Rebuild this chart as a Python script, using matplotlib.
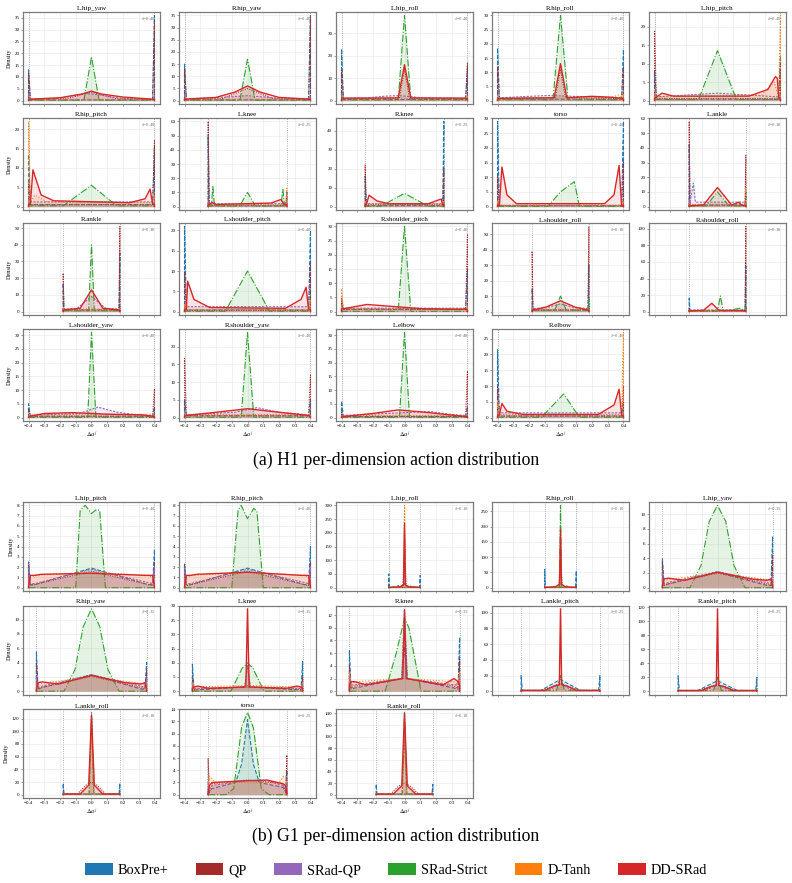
import numpy as np
import matplotlib
matplotlib.use("Agg")
import matplotlib.pyplot as plt
from matplotlib.patches import Patch
from matplotlib.ticker import MultipleLocator

plt.rcParams['font.family'] = ['Liberation Serif', 'DejaVu Serif']
plt.rcParams['mathtext.fontset'] = 'stix'

# =============================================
# Methods
# =============================================
METHODS = ["BoxPre+", "QP", "SRad-QP", "SRad-Strict", "D-Tanh", "DD-SRad"]
COLORS = ["#1f77b4", "#a52a2a", "#9467bd", "#2ca02c", "#ff7f0e", "#d62728"]
STYLES = ["--", (0, (1, 1.2)), (0, (2, 1.2)), "-.", ":", "-"]

# each curve: (left edge spike, base level, right edge spike, [(u, density), ...])
# u is the position as a fraction of delta (-1 .. 1)

# =============================================
# H1 (19 joints)
# =============================================
H1_NAMES = ["L.hip_yaw", "R.hip_yaw", "L.hip_roll", "R.hip_roll", "L.hip_pitch",
            "R.hip_pitch", "L.knee", "R.knee", "torso", "L.ankle",
            "R.ankle", "L.shoulder_pitch", "R.shoulder_pitch", "L.shoulder_roll", "R.shoulder_roll",
            "L.shoulder_yaw", "R.shoulder_yaw", "L.elbow", "R.elbow"]
H1_DELTA = [0.40, 0.40, 0.40, 0.40, 0.40, 0.40, 0.25, 0.25, 0.40, 0.18,
            0.18, 0.40, 0.40, 0.18, 0.18, 0.40, 0.40, 0.40, 0.40]
H1_YSTEP = [5, 5, 10, 5, 5, 5, 10, 10, 5, 10, 10, 5, 5, 10, 20, 5, 5, 5, 5]

H1_BOX = [(13, 0.3, 36, []), (15, 0.3, 35, []), (23, 0.5, 15, []), (18.5, 0.5, 18, []),
          (8, 0.4, 12, []), (13.5, 0.5, 15.5, []), (50, 0.5, 10, []), (16, 0.5, 45, []),
          (29, 0.3, 29, []), (42, 1, 10, []), (17, 1, 35, []), (21, 0.4, 20, []),
          (3, 0.8, 15, []), (15, 1, 30, []), (16, 1, 55, []), (5, 0.5, 4, []),
          (5, 0.5, 5, []), (6, 0.4, 4, []), (21.5, 0.5, 5, [])]
H1_QP = [(12, 0.5, 34, [(-0.4, 0.8), (0, 3.5), (0.4, 0.8)]),
         (13, 0.5, 34, [(-0.4, 0.8), (0, 5), (0.4, 0.8)]),
         (14, 0.8, 17, [(-0.08, 1), (0, 14), (0.08, 1)]),
         (12, 0.7, 12, [(-0.08, 1), (0, 11), (0.08, 1)]),
         (19, 0.5, 10, []), (6, 0.5, 17, []), (60, 1, 8, []), (22, 1, 20, []),
         (10, 0.3, 15, []), (58, 1, 35, []), (23, 1, 51, []), (10, 0.3, 12, []),
         (5, 0.8, 27, []), (39, 1, 55, []), (5, 1, 103, []), (3, 0.5, 10.5, []),
         (17, 0.5, 12, []), (2, 0.4, 17, []), (10, 0.5, 10, [])]
H1_SQP = [(3, 0.6, 2, [(-0.5, 1), (-0.1, 3), (0.1, 2.5), (0.5, 0.8)]),
          (2, 0.8, 2, [(-0.5, 1.2), (0, 2), (0.5, 1)]),
          (2, 1, 1.5, [(-0.6, 1.2), (-0.3, 2), (-0.1, 2.2), (0, 2), (0.3, 1.2)]),
          (1, 1, 1, [(-0.5, 1.5), (-0.2, 1.8), (0.2, 1.5), (0.6, 1.2)]),
          (2, 1, 1, [(-0.5, 1.5), (0, 2), (0.5, 1.5)]),
          (2, 1.2, 1.5, []), (3, 2, 3, []), (2, 1.5, 3, []), (1, 0.4, 1, []),
          (5, 3, 3, [(-0.85, 16), (-0.78, 3), (0.5, 3)]),
          (2, 1.5, 2, [(-0.5, 2), (0, 9), (0.5, 2)]),
          (1, 1.2, 1, []), (1, 1.2, 1, []),
          (3, 2, 3, [(-0.5, 2.5), (0, 5), (0.5, 2.5)]),
          (3, 2, 3, []),
          (1, 0.8, 1, [(-0.2, 1.5), (0.1, 3.8), (0.4, 2), (0.7, 1)]),
          (1, 0.8, 1, [(-0.2, 1.5), (0.15, 2.8), (0.5, 1.5)]),
          (1, 0.8, 1, [(0, 1.8), (0.4, 2.2), (0.8, 1)]),
          (2, 1.5, 1.5, [])]
H1_STRICT = [(1, 0.2, 1, [(-0.12, 0.2), (0, 18.5), (0.12, 0.2)]),
             (1, 0.2, 1, [(-0.12, 0.2), (0, 17), (0.12, 0.2)]),
             (1, 0.3, 1, [(-0.1, 0.3), (0, 38), (0.1, 0.3)]),
             (1, 0.3, 1, [(-0.12, 0.3), (0, 30), (0.12, 0.3)]),
             (0.5, 0.3, 0.5, [(-0.3, 0.3), (0, 13.5), (0.3, 0.3)]),
             (0.5, 0.2, 0.5, [(-0.45, 0.2), (0, 5.5), (0.4, 0.2)]),
             (1, 0.5, 1, [(-0.92, 0.5), (-0.88, 14), (-0.84, 0.5), (-0.2, 0.5), (0, 10),
                          (0.2, 0.5), (0.85, 0.5), (0.9, 12), (0.94, 0.5)]),
             (0.5, 0.2, 0.5, [(-0.6, 0.2), (0, 7), (0.6, 0.2)]),
             (0.2, 0.1, 0.2, [(-0.2, 0.1), (0, 5), (0.22, 8.5), (0.3, 0.1)]),
             (0.5, 0.5, 1, [(-0.4, 0.5), (0, 10), (0.4, 0.5)]),
             (0.5, 0.5, 0.5, [(-0.1, 0.5), (0, 40), (0.1, 0.5)]),
             (0.2, 0.1, 0.2, [(-0.35, 0.1), (0, 10), (0.35, 0.1)]),
             (0.2, 0.1, 0.2, [(-0.1, 0.1), (0, 30), (0.1, 0.1)]),
             (1, 1, 8, [(-0.2, 1), (0, 10), (0.2, 1)]),
             (1, 0.5, 5, [(0, 0.5), (0.1, 19), (0.2, 0.5), (0.8, 4)]),
             (0.2, 0.1, 0.2, [(-0.06, 0.1), (0, 31), (0.07, 0.1)]),
             (0.2, 0.1, 0.2, [(-0.1, 0.1), (0, 24), (0.1, 0.1)]),
             (0.2, 0.1, 0.2, [(-0.08, 0.1), (0, 31), (0.08, 0.1)]),
             (0.2, 0.1, 0.2, [(-0.3, 0.1), (0.05, 7.5), (0.3, 0.1)])]
H1_TANH = [(1, 0.5, 1, []), (1, 0.6, 1, []), (1, 0.8, 2, []), (1, 0.8, 2.5, [(0.8, 1), (0.92, 2)]),
           (3, 1, 23, [(0.7, 1.5), (0.9, 5)]), (22, 1, 3, [(-0.9, 3), (-0.7, 1.2)]),
           (2, 1, 13, []), (3, 1.5, 3, []), (2, 0.5, 2, []), (3, 1.5, 12, []),
           (2, 1.5, 2, []), (2, 0.5, 3, []), (8, 1, 2, []), (2, 1.5, 2, []),
           (2, 1, 2, []), (1, 1.2, 1, []), (1, 1, 1, []), (1, 1, 1, []), (5, 1, 27, [])]
H1_DD = [(0.3, 0.6, 0.5, [(-0.5, 1.2), (-0.15, 2.8), (0, 4), (0.15, 2.8), (0.5, 1.5)]),
         (0.5, 0.6, 0.5, [(-0.5, 1.3), (-0.2, 3.5), (0, 6), (0.2, 3.5), (0.5, 1.3)]),
         (0.5, 1.1, 0.5, [(-0.1, 1.2), (0, 16), (0.1, 1.2)]),
         (0.5, 0.8, 0.5, [(-0.1, 1), (0, 13), (0.1, 1), (0.5, 1.5), (0.8, 1.2)]),
         (0.5, 1, 0.5, [(-0.88, 2), (-0.7, 1.2), (0.5, 1.2), (0.8, 3), (0.92, 6.5), (0.95, 6)]),
         (0.5, 0.8, 0.5, [(-0.93, 9.5), (-0.8, 3), (-0.6, 1.5), (0.6, 1), (0.85, 2), (0.93, 4.5)]),
         (1, 1.5, 1, [(-0.9, 3), (-0.8, 1.5), (0.6, 2.5), (0.85, 5), (0.93, 1.5)]),
         (1, 1, 1, [(-0.9, 6), (-0.7, 3), (-0.4, 1.5), (0.6, 1.5), (0.93, 4)]),
         (0.5, 0.3, 0.5, [(-0.93, 13.5), (-0.85, 4), (-0.7, 1), (0.7, 1), (0.85, 4), (0.93, 14)]),
         (1, 0.5, 0.5, [(-0.5, 1), (0, 13), (0.5, 1), (0.75, 3), (0.85, 1)]),
         (1, 1, 1, [(-0.4, 2), (0, 13), (0.4, 2)]),
         (0.5, 0.5, 0.5, [(-0.95, 7.5), (-0.85, 3), (-0.6, 1), (0.6, 0.8), (0.85, 3), (0.93, 6)]),
         (1, 1, 0.5, [(-0.6, 2.5), (-0.3, 2), (0.3, 1), (0.9, 0.8)]),
         (1, 1, 1, [(-0.5, 3), (0, 7), (0.5, 3)]),
         (1, 1, 1, [(-0.5, 1.5), (-0.2, 10), (0.05, 1.5)]),
         (0.3, 0.5, 0.3, [(-0.75, 1.5), (-0.3, 1.8), (0.3, 1.2), (0.8, 1)]),
         (0.3, 0.6, 0.3, [(-0.5, 1.5), (0, 2.5), (0.5, 1.5)]),
         (0.3, 0.4, 0.3, [(-0.5, 1.5), (-0.1, 2.8), (0.3, 2), (0.8, 0.8)]),
         (0.5, 0.8, 0.5, [(-0.93, 4.5), (-0.85, 2), (-0.6, 1), (0.6, 1), (0.85, 4), (0.93, 9)])]

# =============================================
# G1 (13 joints)
# =============================================
G1_NAMES = ["L.hip_pitch", "R.hip_pitch", "L.hip_roll", "R.hip_roll", "L.hip_yaw",
            "R.hip_yaw", "L.knee", "R.knee", "L.ankle_pitch", "R.ankle_pitch",
            "L.ankle_roll", "torso", "R.ankle_roll"]
G1_DELTA = [0.40, 0.40, 0.10, 0.10, 0.35, 0.35, 0.35, 0.35, 0.25, 0.25, 0.18, 0.25, 0.18]
G1_YSTEP = [1, 1, 50, 50, 2, 2, 5, 2, 20, 20, 20, 2, 20]

G1_BOX = [(2.5, 0.3, 3.7, [(-0.9, 0.3), (0, 1.9), (0.9, 0.3)]),
          (2.3, 0.3, 4, [(-0.9, 0.3), (0, 1.9), (0.9, 0.3)]),
          (50, 1, 45, [(-0.5, 1), (-0.4, 8), (-0.3, 1), (0.3, 1), (0.4, 6), (0.5, 1)]),
          (60, 1, 55, [(-0.5, 1), (-0.4, 8), (-0.3, 1), (0.3, 1), (0.4, 6), (0.5, 1)]),
          (4, 0.3, 7, [(-0.9, 0.5), (0, 2.1), (0.9, 0.3)]),
          (5.5, 0.3, 4, [(-0.9, 0.5), (0, 2.3), (0.9, 0.3)]),
          (9.5, 0.4, 10.5, [(-0.9, 0.5), (0, 1.5), (0.9, 0.5)]),
          (6.5, 0.3, 8.5, [(-0.9, 0.5), (-0.05, 2), (0, 7), (0.05, 2), (0.9, 0.5)]),
          (20, 1, 20, [(-0.5, 1), (0, 15), (0.5, 1)]),
          (22, 1, 20, [(-0.5, 1), (0, 15), (0.5, 1)]),
          (18, 1, 18, []),
          (1, 0.5, 4, [(-0.9, 1), (-0.3, 2), (-0.15, 5), (0, 12.3), (0.15, 5), (0.3, 2), (0.9, 1.2)]),
          (18, 1, 18, [])]
G1_QP = [(2.3, 0.2, 2.5, [(-0.9, 0.3), (0, 1.6), (0.9, 0.3)]),
         (2.2, 0.2, 2.4, [(-0.9, 0.3), (0, 1.6), (0.9, 0.3)]),
         (2, 1, 2, [(-0.1, 1), (0, 200), (0.1, 1)]),
         (2, 1, 2, [(-0.1, 1), (0, 150), (0.1, 1)]),
         (3.5, 0.3, 4.5, [(-0.9, 0.5), (0, 2), (0.9, 0.5)]),
         (4, 0.3, 3, [(-0.9, 0.5), (0, 2.1), (0.9, 0.5)]),
         (5, 0.5, 5, [(-0.9, 0.8), (-0.05, 1.5), (0, 9), (0.05, 1.5), (0.9, 0.8)]),
         (4, 0.5, 5, [(-0.9, 0.8), (-0.05, 2), (0, 12), (0.05, 2), (0.9, 0.8)]),
         (1, 1, 1, [(-0.5, 1), (-0.2, 6), (0, 10), (0.2, 6), (0.5, 1)]),
         (1, 1, 1, [(-0.5, 1), (-0.2, 6), (0, 10), (0.2, 6), (0.5, 1)]),
         (1, 1, 1, [(-0.5, 1), (-0.2, 15), (0, 20), (0.2, 15), (0.5, 1)]),
         (6, 0.3, 6.5, [(-0.9, 1.8), (0, 2.4), (0.9, 1.8)]),
         (1, 1, 1, [(-0.5, 1), (-0.2, 15), (0, 20), (0.2, 15), (0.5, 1)])]
G1_SQP = [(2, 0.4, 2, [(-0.9, 0.4), (0, 1.8), (0.9, 0.5)]),
          (2, 0.4, 2, [(-0.9, 0.4), (0, 1.8), (0.9, 0.5)]),
          (2, 1, 2, [(-0.2, 1), (0, 15), (0.2, 1)]),
          (2, 1, 2, [(-0.2, 1), (0, 12), (0.2, 1)]),
          (2, 0.5, 2, [(-0.9, 0.7), (0, 2.2), (0.9, 0.7)]),
          (2, 0.5, 2, [(-0.9, 0.7), (0, 2.3), (0.9, 0.7)]),
          (3, 1, 3, [(-0.9, 1), (-0.05, 1.5), (0, 9), (0.05, 1.5), (0.9, 1)]),
          (3, 1, 3, [(-0.9, 1), (-0.05, 2), (0, 13), (0.05, 2), (0.9, 1)]),
          (1, 1, 1, [(-0.3, 1), (0, 10), (0.3, 1)]),
          (1, 1, 1, [(-0.3, 1), (0, 10), (0.3, 1)]),
          (1, 1, 1, [(-0.08, 1), (0, 130), (0.08, 1)]),
          (2, 1, 2, [(-0.9, 1.5), (0, 2.3), (0.5, 2.3), (0.9, 1.5)]),
          (1, 1, 1, [(-0.08, 1), (0, 100), (0.08, 1)])]
G1_STRICT = [(0, 0, 0, [(-0.25, 0), (-0.18, 7.5), (-0.1, 8), (0, 7.2), (0.08, 7.6), (0.13, 7.5), (0.22, 0)]),
             (0, 0, 0, [(-0.25, 0), (-0.15, 7.5), (-0.1, 8), (0, 6.7), (0.1, 7.7), (0.15, 7.4), (0.25, 0)]),
             (1, 1, 1, [(-0.2, 5), (0, 15), (0.2, 5)]),
             (1, 1, 1, [(-0.06, 1), (0, 270), (0.06, 1)]),
             (0, 0, 0, [(-0.5, 0), (-0.3, 3), (-0.15, 9), (0, 11.2), (0.15, 9), (0.3, 3), (0.5, 0)]),
             (0, 0, 0, [(-0.5, 0), (-0.3, 3), (-0.15, 9), (0, 11.5), (0.15, 9), (0.3, 3), (0.5, 0)]),
             (0, 0, 0, [(-0.3, 0), (-0.1, 8), (0, 10), (0.1, 8), (0.3, 0)]),
             (0, 0, 0, [(-0.35, 0), (-0.15, 6), (0, 11.5), (0.08, 10), (0.3, 0)]),
             (1, 1, 1, [(-0.1, 1), (0, 20), (0.1, 1)]),
             (1, 1, 1, [(-0.1, 1), (0, 20), (0.1, 1)]),
             (1, 1, 1, [(-0.08, 1), (0, 125), (0.08, 1)]),
             (0, 0, 0, [(-0.55, 0), (-0.35, 1), (-0.15, 11), (0, 13.5), (0.15, 11), (0.35, 1), (0.55, 0)]),
             (1, 1, 1, [(-0.08, 1), (0, 142), (0.08, 1)])]
G1_TANH = [(1, 1, 1, [(-0.9, 1.2), (0, 1.5), (0.9, 1.2)]),
           (1, 1, 1, [(-0.9, 1.2), (0, 1.5), (0.9, 1.2)]),
           (1, 1, 1, [(-0.06, 1), (0, 300), (0.06, 1)]),
           (1, 1, 1, [(-0.1, 1), (0, 100), (0.1, 1)]),
           (1, 1, 1, [(-0.9, 1.1), (0, 2), (0.9, 1.1)]),
           (1, 1, 1, [(-0.9, 1.1), (0, 2), (0.9, 1.1)]),
           (3, 1, 3, [(-0.9, 1.5), (0, 2), (0.9, 1.5)]),
           (3, 1, 3, [(-0.9, 1.5), (0, 2), (0.9, 1.5)]),
           (1, 1, 1, [(-0.1, 1), (0, 5), (0.1, 1)]),
           (1, 1, 1, [(-0.1, 1), (0, 5), (0.1, 1)]),
           (1, 1, 1, [(-0.08, 1), (0, 100), (0.08, 1)]),
           (1, 3, 1, [(-0.8, 2), (0, 2), (0.8, 2), (0.92, 3)]),
           (1, 1, 1, [(-0.08, 1), (0, 120), (0.08, 1)])]
G1_DD = [(0.1, 1.2, 0.1, [(-0.9, 1.2), (-0.8, 1.3), (0, 1.4), (0.85, 1.2)]),
         (0.1, 1.2, 0.1, [(-0.9, 1.2), (-0.8, 1.3), (0, 1.5), (0.85, 1.2)]),
         (1, 1, 1, [(-0.3, 3), (-0.06, 10), (0, 235), (0.06, 10), (0.3, 3)]),
         (1, 1, 1, [(-0.3, 3), (-0.06, 12), (0, 190), (0.06, 12), (0.3, 3)]),
         (0.2, 1.2, 0.2, [(-0.9, 1.3), (-0.6, 1), (0, 2.1), (0.6, 1.2), (0.9, 1)]),
         (0.2, 1.2, 0.2, [(-0.9, 1.3), (-0.6, 1), (0, 2.2), (0.6, 1.2), (0.9, 1)]),
         (1, 1.5, 1, [(-0.9, 1.8), (-0.7, 1), (-0.03, 1.5), (0, 29), (0.03, 1.5), (0.7, 1), (0.9, 1.8)]),
         (1, 1.5, 1, [(-0.9, 1.5), (-0.7, 1), (-0.03, 2), (0, 12.8), (0.03, 2), (0.7, 1), (0.9, 2)]),
         (1, 1, 1, [(-0.4, 1), (-0.15, 7), (-0.03, 8), (0, 105), (0.03, 8), (0.15, 7), (0.4, 1)]),
         (1, 1, 1, [(-0.4, 1), (-0.15, 7), (-0.03, 8), (0, 118), (0.03, 8), (0.15, 7), (0.4, 1)]),
         (1, 1, 1, [(-0.4, 1), (-0.1, 15), (0, 125), (0.1, 15), (0.4, 1)]),
         (0.1, 1.5, 0.1, [(-0.9, 2), (0, 2.3), (0.5, 2.4), (0.9, 1.8)]),
         (1, 1, 1, [(-0.4, 1), (-0.1, 15), (0, 140), (0.1, 15), (0.4, 1)])]

H1_CURVES = [H1_BOX, H1_QP, H1_SQP, H1_STRICT, H1_TANH, H1_DD]
G1_CURVES = [G1_BOX, G1_QP, G1_SQP, G1_STRICT, G1_TANH, G1_DD]

# =============================================
# Layout (pixels in the 792x883 figure)
# =============================================
W, H = 792, 883
COL_LEFT = [23, 179, 336, 492, 649]
AX_W = 137
H1_TOPS = [12, 118, 223, 329]
H1_AX_H = 92
G1_TOPS = [502, 605.5, 709]
G1_AX_H = 89


def curve_points(spec, delta):
    left, base, right, inner = spec
    u = [-1, -1, -0.97] + [p[0] for p in inner] + [0.97, 1, 1]
    y = [0, left, base] + [p[1] for p in inner] + [base, right, 0]
    return np.array(u) * delta, np.array(y)


def draw_panel(ax, name, delta, ystep, specs, last_row, first_col):
    for k in range(len(METHODS)):
        x, y = curve_points(specs[k], delta)
        ax.fill_between(x, y, 0, color=COLORS[k], alpha=0.12, lw=0, zorder=2 + k)
        ax.plot(x, y, color=COLORS[k], ls=STYLES[k], lw=1.0 if k == 5 else 0.8, zorder=3 + k)
    for b in (-delta, delta):
        ax.axvline(b, color="#999999", ls=":", lw=0.6, zorder=1)
    ax.set_xlim(-0.435, 0.435)
    ax.margins(y=0.04)
    ax.xaxis.set_major_locator(MultipleLocator(0.1))
    ax.yaxis.set_major_locator(MultipleLocator(ystep))
    ax.grid(True, color="#e6e6e6", lw=0.4)
    ax.set_axisbelow(True)
    for s in ax.spines.values():
        s.set_color("#7a7a7a")
        s.set_linewidth(0.9)
    ax.tick_params(labelsize=3.6, length=1.5, width=0.4, pad=1, color="#555555")
    ax.set_title(name, fontsize=5, pad=1.5)
    ax.text(0.97, 0.93, r"$\delta$=%.2f" % delta, transform=ax.transAxes,
            ha="right", va="center", fontsize=3.4, color="#777777")
    if last_row:
        ax.set_xlabel(r"$\Delta a^j$", fontsize=4.5, labelpad=0.5)
    else:
        ax.tick_params(labelbottom=False)
    if first_col:
        ax.set_ylabel("Density", fontsize=4.5, labelpad=2)


def draw_block(fig, names, deltas, ysteps, curves, tops, ax_h):
    n = len(names)
    n_rows = (n + 4) // 5
    for i in range(n):
        r, c = i // 5, i % 5
        ax = fig.add_axes([COL_LEFT[c] / W, 1 - (tops[r] + ax_h) / H, AX_W / W, ax_h / H])
        specs = [curves[k][i] for k in range(len(METHODS))]
        draw_panel(ax, names[i], deltas[i], ysteps[i], specs, r == n_rows - 1, c == 0)


fig = plt.figure(figsize=(W / 100, H / 100), dpi=100)
draw_block(fig, H1_NAMES, H1_DELTA, H1_YSTEP, H1_CURVES, H1_TOPS, H1_AX_H)
draw_block(fig, G1_NAMES, G1_DELTA, G1_YSTEP, G1_CURVES, G1_TOPS, G1_AX_H)

fig.text(0.5, 1 - 460 / H, "(a) H1 per-dimension action distribution", ha="center", va="center", fontsize=12.8)
fig.text(0.5, 1 - 836 / H, "(b) G1 per-dimension action distribution", ha="center", va="center", fontsize=12.8)

handles = [Patch(facecolor=COLORS[k], edgecolor="none", label=METHODS[k]) for k in range(len(METHODS))]
fig.legend(handles=handles, loc="center", bbox_to_anchor=(0.5, 1 - 870 / H), ncol=6, frameon=False,
           fontsize=10.3, handlelength=1.95, handleheight=0.95, handletextpad=0.35, columnspacing=1.9)

fig.savefig("out.png", dpi=100)
